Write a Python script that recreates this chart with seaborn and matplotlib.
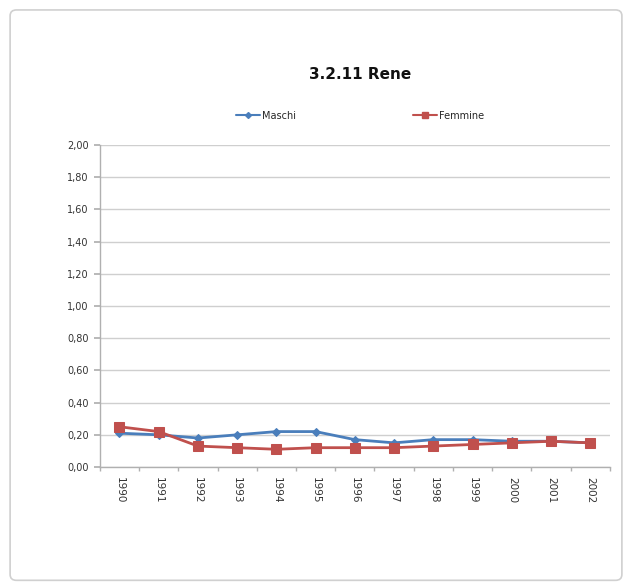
import matplotlib
matplotlib.use("Agg")
import matplotlib.pyplot as plt
import seaborn as sns
import pandas as pd
from matplotlib.patches import FancyBboxPatch
from matplotlib.lines import Line2D

years = ["1990", "1991", "1992", "1993", "1994", "1995", "1996", "1997", "1998", "1999", "2000", "2001", "2002"]
maschi = [0.21, 0.20, 0.18, 0.20, 0.22, 0.22, 0.17, 0.15, 0.17, 0.17, 0.16, 0.16, 0.15]
femmine = [0.25, 0.22, 0.13, 0.12, 0.11, 0.12, 0.12, 0.12, 0.13, 0.14, 0.15, 0.16, 0.15]
yticks = [0.0, 0.2, 0.4, 0.6, 0.8, 1.0, 1.2, 1.4, 1.6, 1.8, 2.0]

sns.set_theme(style="white")
plt.rcParams['font.family'] = ['DejaVu Sans']

df = pd.DataFrame({
    "x": list(range(len(years))) * 2,
    "val": maschi + femmine,
    "serie": ["Maschi"] * len(years) + ["Femmine"] * len(years),
})

fig = plt.figure(figsize=(6.32, 5.85), dpi=100)
fig.patch.set_facecolor("white")
border = FancyBboxPatch((0.016, 0.008), 0.968, 0.975, boxstyle="round,pad=0,rounding_size=0.01",
                        transform=fig.transFigure, facecolor="none", edgecolor="#d0d0d0",
                        linewidth=1.2, zorder=-1)
fig.patches.append(border)

ax = fig.add_axes([0.158, 0.2017, 0.807, 0.5504])
ax.set_facecolor("none")
palette = {"Maschi": "#4a7ebb", "Femmine": "#c0504d"}
markers = {"Maschi": "D", "Femmine": "s"}
sns.lineplot(data=df, x="x", y="val", hue="serie", style="serie", palette=palette,
             markers=markers, dashes=False, linewidth=2.0, markersize=6,
             legend=False, ax=ax)
for line in ax.lines:
    line.set_markeredgecolor(line.get_color())
ax.lines[0].set_markersize(4)
ax.lines[1].set_markersize(6.5)

ax.set_xlim(-0.5, len(years) - 0.5)
ax.set_ylim(0, 2.0)
ax.set_yticks(yticks)
ax.set_yticklabels([f"{v:.2f}".replace(".", ",") for v in yticks], fontsize=7, color="#333333")
ax.set_xticks(range(len(years)))
ax.set_xticklabels(years, rotation=-90, fontsize=7.5, color="#333333")
ax.set_xticks([i + 0.5 for i in range(-1, len(years))], minor=True)
ax.tick_params(axis="x", which="major", length=0, pad=7)
ax.tick_params(axis="x", which="minor", length=3, color="#b0b0b0", direction="out", bottom=True)
ax.tick_params(axis="y", length=4, color="#b0b0b0", direction="out", left=True, pad=4)
ax.yaxis.grid(True, color="#cfcfcf", linewidth=1)
ax.set_axisbelow(True)
for sp in ["top", "right"]:
    ax.spines[sp].set_visible(False)
for sp in ["left", "bottom"]:
    ax.spines[sp].set_color("#b0b0b0")
    ax.spines[sp].set_linewidth(1)
ax.set_xlabel("")
ax.set_ylabel("")

fig.text(0.57, 0.872, "3.2.11 Rene", ha="center", va="center", fontsize=11, fontweight="bold", color="#111111")

h1 = Line2D([], [], color="#4a7ebb", marker="D", markersize=3, linewidth=1.5)
h2 = Line2D([], [], color="#c0504d", marker="s", markersize=5, linewidth=1.5)
fig.legend([h1, h2], ["Maschi", "Femmine"], loc="center", bbox_to_anchor=(0.57, 0.802),
           ncol=2, frameon=False, fontsize=7, columnspacing=12, handlelength=2.5, handletextpad=0.2)

fig.savefig("out.png", dpi=100, facecolor="white")
